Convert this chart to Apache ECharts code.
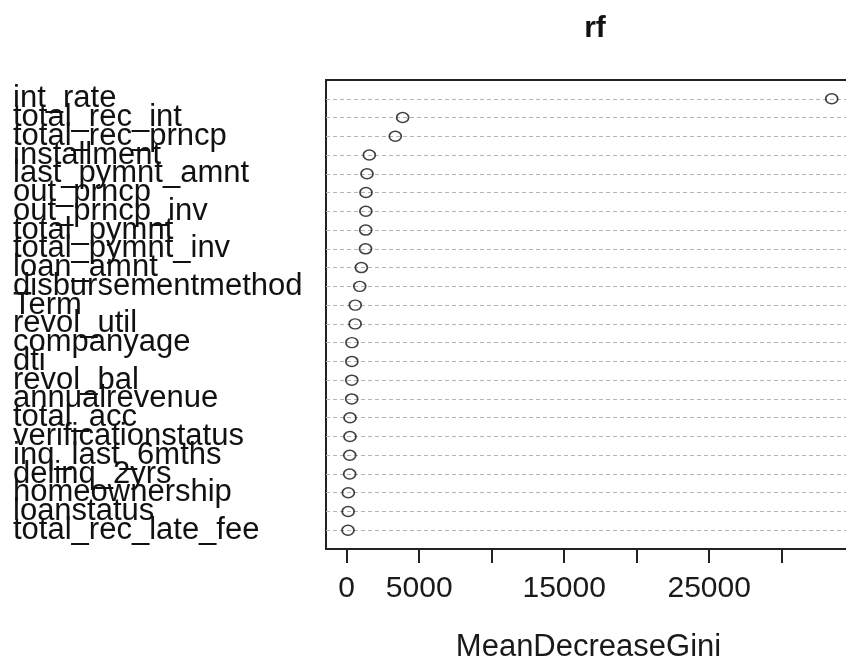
<!DOCTYPE html>
<html><head><meta charset="utf-8">
<script src="https://cdn.jsdelivr.net/npm/echarts@6/dist/echarts.min.js"></script>
<style>html,body{margin:0;padding:0;background:#fff}#c{width:846px;height:659px}</style>
</head><body><div id="c"></div>
<script>
const categories = ["int_rate","total_rec_int","total_rec_prncp","installment","last_pymnt_amnt","out_prncp","out_prncp_inv","total_pymnt","total_pymnt_inv","loan_amnt","disbursementmethod","Term","revol_util","companyage","dti","revol_bal","annualrevenue","total_acc","verificationstatus","inq_last_6mths","delinq_2yrs","homeownership","loanstatus","total_rec_late_fee"];
const values = [33450,3860,3350,1560,1400,1330,1320,1310,1300,1010,900,590,580,360,355,350,345,230,225,210,205,110,100,90];
const tickValues = [0,5000,10000,15000,20000,25000,30000];
const tickLabels = [0,5000,15000,25000];
const titleText = "rf";
const xName = "MeanDecreaseGini";

const font = "'Liberation Sans', Arial, sans-serif";
const chart = echarts.init(document.getElementById('c'), null, {renderer:'canvas'});
chart.setOption({
  animation:false,
  backgroundColor:'#fff',
  title:{text:titleText,left:590,top:9,textAlign:'center',textStyle:{fontFamily:font,fontWeight:'bold',fontSize:30,color:'#111'}},
  grid:{left:326,top:80,bottom:110,right:-5,show:true,borderColor:'#222',borderWidth:2,backgroundColor:'transparent',outerBoundsMode:'none'},
  xAxis:{type:'value',min:-1428,max:34780,
    axisLine:{show:false,onZero:false},
    splitLine:{show:false},
    axisTick:{show:true,inside:false,length:14,customValues:tickValues,lineStyle:{color:'#222',width:2}},
    axisLabel:{customValues:tickLabels,margin:25,fontFamily:font,fontSize:30,color:'#1a1a1a',lineHeight:30,
      formatter:function(v){return String(v);}},
    name:xName,nameLocation:'middle',nameGap:83,nameTextStyle:{fontFamily:font,fontSize:31,color:'#1a1a1a',lineHeight:31}
  },
  yAxis:{type:'value',min:0,max:25,interval:1,inverse:true,
    axisLine:{show:false},axisTick:{show:false},
    splitLine:{show:true,showMinLine:false,showMaxLine:false,lineStyle:{color:'#b4b4b4',type:[4,3],width:1}},
    axisLabel:{align:'left',margin:313,fontFamily:font,fontSize:31,color:'#111',
      formatter:function(v){return categories[v-1]||'';}}
  },
  series:[{type:'scatter',symbol:'circle',symbolSize:[12,10],
    itemStyle:{color:'transparent',borderColor:'#111',borderWidth:1.6},
    data:values.map((v,i)=>[v,i+1])}]
});
</script></body></html>
